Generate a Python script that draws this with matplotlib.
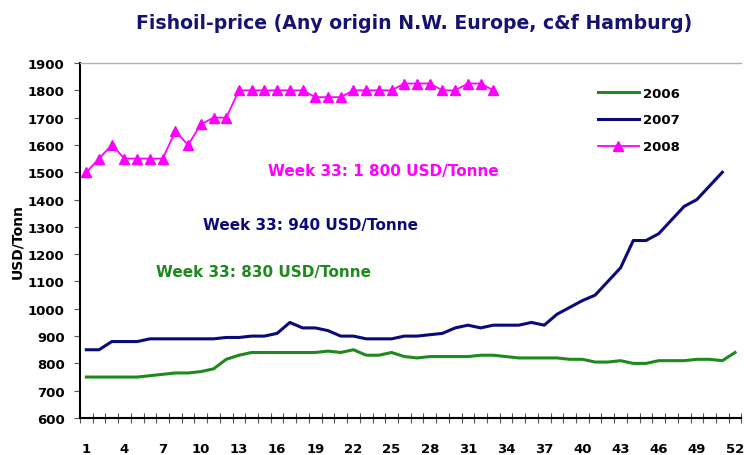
#fishoil price by week, three years on one chart

#import packages
import numpy as np
import matplotlib.pyplot as plt
from matplotlib.ticker import FixedLocator

plt.rcParams["font.family"] = ["DejaVu Sans"]
plt.rcParams["font.weight"] = "bold"

#weekly prices, USD per tonne
weeks_2006 = list(range(1, 53))
price_2006 = [750, 750, 750, 750, 750, 755, 760, 765, 765, 770,
              780, 815, 830, 840, 840, 840, 840, 840, 840, 845,
              840, 850, 830, 830, 840, 825, 820, 825, 825, 825,
              825, 830, 830, 825, 820, 820, 820, 820, 815, 815,
              805, 805, 810, 800, 800, 810, 810, 810, 815, 815,
              810, 840]

weeks_2007 = list(range(1, 52))
price_2007 = [850, 850, 880, 880, 880, 890, 890, 890, 890, 890,
              890, 895, 895, 900, 900, 910, 950, 930, 930, 920,
              900, 900, 890, 890, 890, 900, 900, 905, 910, 930,
              940, 930, 940, 940, 940, 950, 940, 980, 1005, 1030,
              1050, 1100, 1150, 1250, 1250, 1275, 1325, 1375, 1400, 1450,
              1500]

weeks_2008 = list(range(1, 34))
price_2008 = [1500, 1550, 1600, 1550, 1550, 1550, 1550, 1650, 1600, 1675,
              1700, 1700, 1800, 1800, 1800, 1800, 1800, 1800, 1775, 1775,
              1775, 1800, 1800, 1800, 1800, 1825, 1825, 1825, 1800, 1800,
              1825, 1825, 1800]

week_labels = list(range(1, 53, 3))
notes = ["Week 33: 1 800 USD/Tonne",
         "Week 33: 940 USD/Tonne",
         "Week 33: 830 USD/Tonne"]

c2006 = "#1e8a1e"
c2007 = "#0a0a78"
c2008 = "#ff00ff"

fig = plt.figure(figsize=(7.44, 4.56), dpi=100)
#plot area runs right up to the edge of the figure
ax = fig.add_axes([0.1075, 0.0811, 0.889, 0.7785])

ax.plot(weeks_2006, price_2006, color=c2006, lw=2.2, label="2006")
ax.plot(weeks_2007, price_2007, color=c2007, lw=2.2, label="2007")
ax.plot(weeks_2008, price_2008, color=c2008, lw=1.3, marker="^",
        markersize=7, label="2008")

ax.set_xlim(0.5, 52.5)
ax.set_ylim(600, 1900)
ax.set_yticks(np.arange(600, 1901, 100))

#category boundaries get the tick marks, labels sit on the weeks
ax.set_xticks(week_labels)
ax.xaxis.set_minor_locator(FixedLocator(np.arange(0.5, 53, 1)))
ax.tick_params(axis="x", which="major", length=0, pad=17, labelsize=9.5)
ax.tick_params(axis="x", which="minor", direction="inout", length=7,
               width=0.8, color="#555555")
ax.tick_params(axis="y", which="major", direction="out", length=4,
               width=0.8, color="#555555", pad=7, labelsize=9.5)

for side in ["left", "bottom"]:
    ax.spines[side].set_linewidth(1.5)
    ax.spines[side].set_color("black")
ax.spines["top"].set_color("#b0b0b0")
ax.spines["top"].set_linewidth(1.0)
ax.spines["right"].set_visible(False)

ax.set_ylabel("USD/Tonn", fontsize=10, fontweight="bold")
ax.yaxis.set_label_coords(-0.085, 0.5)

#week 33 notes
for txt, c, x, y in zip(notes, [c2008, c2007, c2006],
                        [15.3, 10.2, 6.5], [1508, 1307, 1138]):
    ax.text(x, y, txt, color=c, fontsize=11, fontweight="bold", va="center")

ax.legend(loc="upper left", bbox_to_anchor=(0.765, 0.967), frameon=False,
          fontsize=9.5, handlelength=3.1, handletextpad=0.3, labelspacing=1.05)

fig.text(0.557, 0.948, "Fishoil-price (Any origin N.W. Europe, c&f Hamburg)",
         ha="center", va="center", fontsize=13.6, fontweight="bold",
         color="#141470")

fig.savefig("out.png", dpi=100)
